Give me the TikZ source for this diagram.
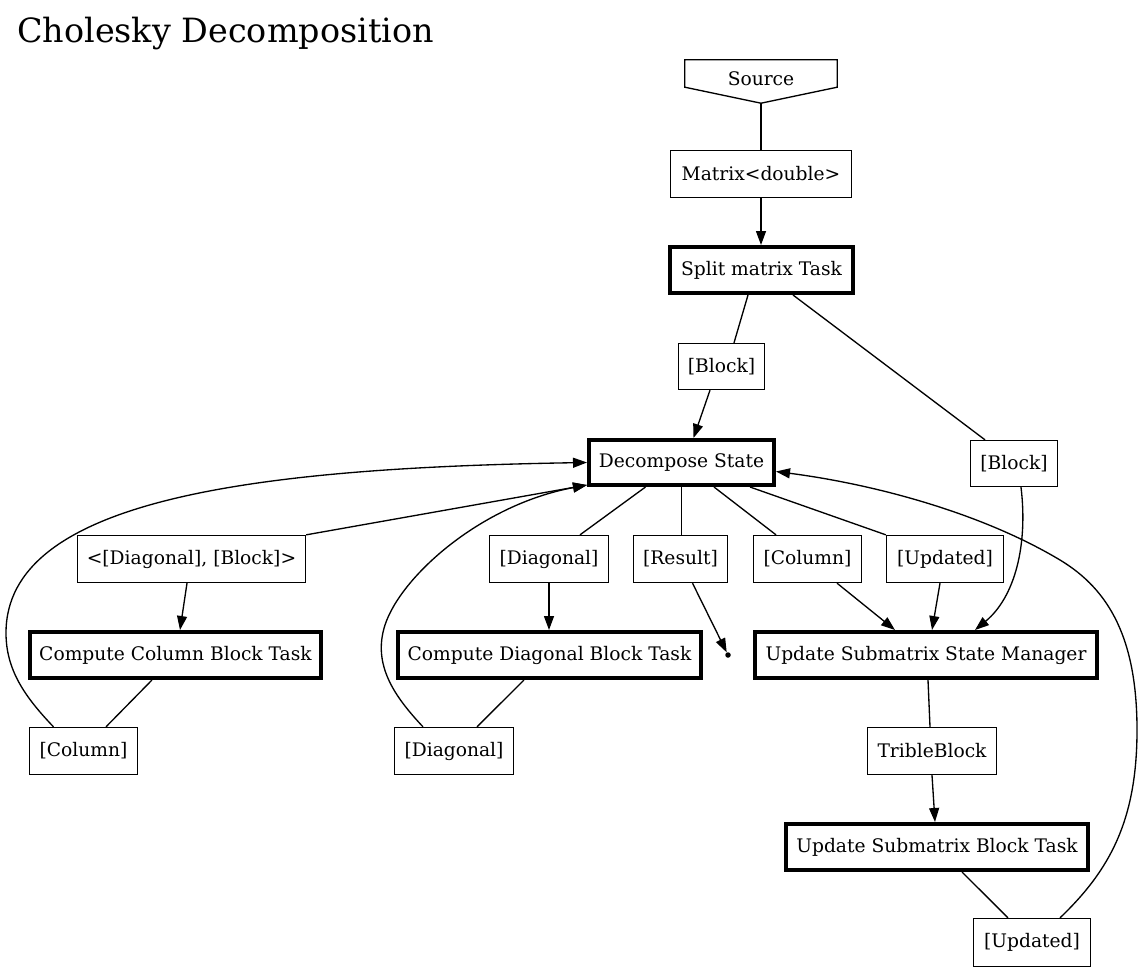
\documentclass[tikz,border=0pt]{standalone}
\usepackage{fontspec}
\setmainfont{DejaVu Serif}
\usetikzlibrary{arrows.meta}

\tikzset{
  lbl/.style={draw=black, line width=1.33pt, rectangle, inner sep=0pt,
    font=\fontsize{18.67}{22}\selectfont, minimum height=47pt},
  task/.style={lbl, line width=4pt, minimum height=46pt},
  edge/.style={line width=1.33pt},
  arr/.style={edge, -{Triangle[length=14pt,width=10pt]}},
  sink/.style={circle, fill=black, inner sep=0pt, minimum size=5.5pt}
}

\begin{document}
\begin{tikzpicture}[x=1pt, y=-1pt]
\useasboundingbox (0,0) rectangle (1142,972);

% title
\node[anchor=base west, inner sep=0pt, font=\fontsize{33.4}{40}\selectfont] (title) at (17,42) {Cholesky Decomposition};

% source (inverted house) and split stage
\node[font=\fontsize{18.67}{22}\selectfont, inner sep=0pt, minimum width=152pt, minimum height=43pt] (source) at (761,81.5) {\raisebox{5pt}{Source}};
\draw[edge] (source.north west) -- (source.north east) -- ([yshift=16pt]source.south east)
  -- (source.south) -- ([yshift=16pt]source.south west) -- cycle;
\node[lbl, minimum width=181pt] (matrix) at (761,174) {Matrix<double>};
\node[task, minimum width=183pt] (split) at (761.5,270) {Split matrix Task};
\node[lbl, minimum width=86pt, minimum height=46pt] (blockL) at (721.5,366.5) {[Block]};
\node[lbl, minimum width=87pt, minimum height=46pt] (blockR) at (1014,463.5) {[Block]};

% decompose state and its outputs
\node[task, minimum width=185pt, minimum height=45pt] (decompose) at (681.5,462.5) {Decompose State};
\node[lbl, minimum width=228pt] (dgb) at (191.5,559) {<[Diagonal], [Block]>};
\node[lbl, minimum width=119pt] (diagT) at (549,559) {[Diagonal]};
\node[lbl, minimum width=94pt] (result) at (680.5,559) {[Result]};
\node[lbl, minimum width=108pt] (columnT) at (807.5,559) {[Column]};
\node[lbl, minimum width=117pt] (updatedT) at (945,559) {[Updated]};

% tasks
\node[task, minimum width=291pt] (ccbt) at (175.5,655) {Compute Column Block Task};
\node[task, minimum width=303pt] (cdbt) at (549.5,655) {Compute Diagonal Block Task};
\node[sink] (pt) at (728,655) {};
\node[task, minimum width=342pt] (ussm) at (926,655) {Update Submatrix State Manager};

% task results
\node[lbl, minimum width=108pt] (columnB) at (83.5,751) {[Column]};
\node[lbl, minimum width=119pt] (diagB) at (454,751) {[Diagonal]};
\node[lbl, minimum width=129pt] (trible) at (932,751) {TribleBlock};
\node[task, minimum width=302pt] (usbt) at (937,847) {Update Submatrix Block Task};
\node[lbl, minimum width=117pt, minimum height=48pt] (updatedB) at (1032,942.5) {[Updated]};

% connectors
\draw[edge] (source.south) -- (source.south |- matrix.north);
\draw[arr] (matrix.south) -- (matrix.south |- split.north);
\draw[edge] ([xshift=-13.5pt]split.south) -- ([xshift=12.5pt]blockL.north);
\draw[arr] ([xshift=-11.5pt]blockL.south) -- ([xshift=12pt]decompose.north);
\draw[edge] ([xshift=31.5pt]split.south) -- ([xshift=-29pt]blockR.north);
\draw[arr] ([xshift=7pt]blockR.south) .. controls (1028,545) and (1015,597) .. ([xshift=49pt]ussm.north);

\draw[arr] (dgb.north east) -- ([yshift=2pt]decompose.south west);
\draw[edge] ([xshift=-36pt]decompose.south) -- ([xshift=31pt]diagT.north);
\draw[edge] (decompose.south) -- (decompose.south |- result.north);
\draw[edge] ([xshift=32.5pt]decompose.south) -- ([xshift=-31.5pt]columnT.north);
\draw[edge] ([xshift=68.5pt]decompose.south) -- (updatedT.north west);

\draw[arr] ([xshift=-4.5pt]dgb.south) -- ([xshift=4.5pt]ccbt.north);
\draw[arr] (diagT.south) -- (diagT.south |- cdbt.north);
\draw[arr] ([xshift=12pt]result.south) -- (pt);
\draw[arr] ([xshift=29.5pt]columnT.south) -- ([xshift=-31pt]ussm.north);
\draw[arr] ([xshift=-5pt]updatedT.south) -- ([xshift=6pt]ussm.north);

\draw[edge] ([xshift=-23.5pt]ccbt.south) -- ([xshift=22.5pt]columnB.north);
\draw[edge] ([xshift=-25.5pt]cdbt.south) -- ([xshift=23pt]diagB.north);
\draw[edge] ([xshift=2pt]ussm.south) -- ([xshift=-2pt]trible.north);
\draw[arr] (trible.south) -- ([xshift=-2pt]usbt.north);
\draw[edge] ([xshift=25pt]usbt.south) -- ([xshift=-24pt]updatedB.north);

% feedback into the decompose state
\draw[arr] ([xshift=-30pt]columnB.north) .. controls (25,697) and (6,670) .. (6,633)
  .. controls (6,500) and (250,468) .. (decompose.west);
\draw[arr] ([xshift=-31pt]diagB.north) .. controls (395,697) and (372,665) .. (385,625)
  .. controls (400.6,577) and (480,505) .. ([yshift=2pt]decompose.south west);
\draw[arr] ([xshift=28pt]updatedB.north) .. controls (1110,870) and (1137,820) .. (1137,730)
  .. controls (1137,640) and (1110,590) .. (1060,560)
  .. controls (985,515) and (880,485) .. ([yshift=-9pt]decompose.east);
\end{tikzpicture}
\end{document}
